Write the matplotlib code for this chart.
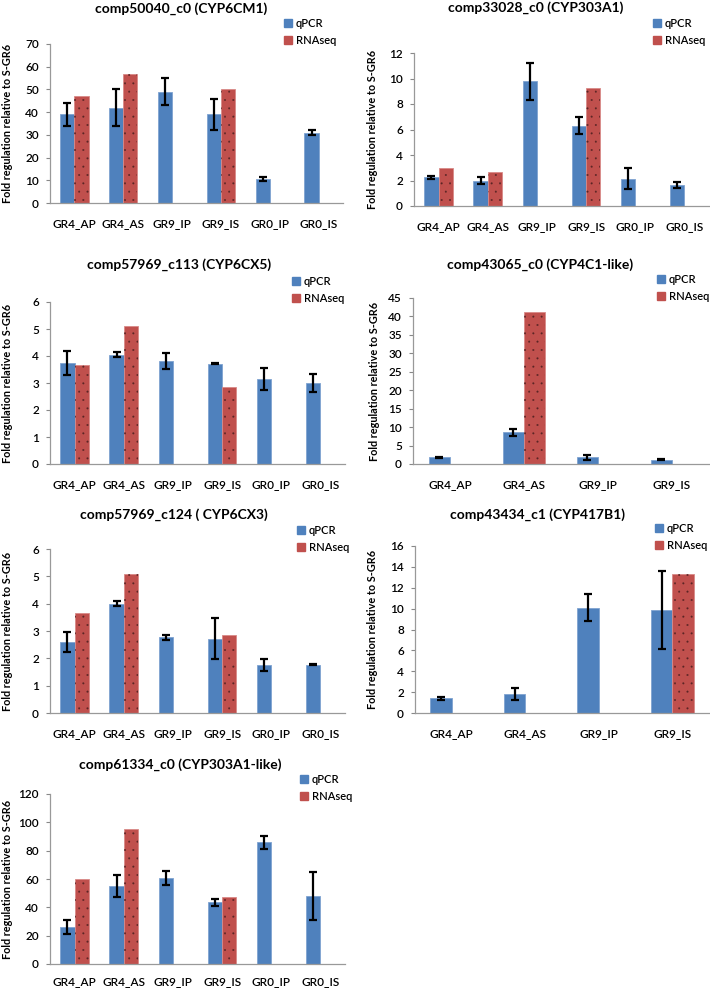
"""
qPCR vs RNAseq fold regulation, seven CYP genes.
"""
import matplotlib
matplotlib.use("Agg")
import matplotlib.pyplot as plt
from matplotlib.patches import Patch

plt.rcParams["font.family"] = ["Lato", "DejaVu Sans"]
plt.rcParams["hatch.linewidth"] = 0.2

cats6 = ["GR4_AP", "GR4_AS", "GR9_IP", "GR9_IS", "GR0_IP", "GR0_IS"]
cats4 = ["GR4_AP", "GR4_AS", "GR9_IP", "GR9_IS"]

titles = ["comp50040_c0 (CYP6CM1)", "comp33028_c0 (CYP303A1)",
          "comp57969_c113 (CYP6CX5)", "comp43065_c0 (CYP4C1-like)",
          "comp57969_c124 ( CYP6CX3)", "comp43434_c1 (CYP417B1)",
          "comp61334_c0 (CYP303A1-like)"]

# None = no RNAseq bar
qpcr_1 = [39, 42, 49, 39, 10.5, 31]
err_1 = [5, 8, 6, 7, 1, 1.2]
rna_1 = [47, 57, None, 50, None, None]

qpcr_2 = [2.25, 2.0, 9.8, 6.3, 2.15, 1.65]
err_2 = [0.1, 0.3, 1.45, 0.65, 0.8, 0.2]
rna_2 = [2.95, 2.7, None, 9.25, None, None]

qpcr_3 = [3.75, 4.05, 3.82, 3.72, 3.15, 3.0]
err_3 = [0.45, 0.1, 0.3, 0.03, 0.42, 0.32]
rna_3 = [3.65, 5.1, None, 2.85, None, None]

qpcr_4 = [1.8, 8.6, 1.8, 1.1]
err_4 = [0.15, 1.0, 0.7, 0.15]
rna_4 = [None, 41.2, None, None]

qpcr_5 = [2.6, 4.0, 2.77, 2.72, 1.75, 1.77]
err_5 = [0.37, 0.1, 0.1, 0.75, 0.22, 0.03]
rna_5 = [3.65, 5.1, None, 2.85, None, None]

qpcr_6 = [1.4, 1.8, 10.1, 9.85]
err_6 = [0.15, 0.55, 1.3, 3.75]
rna_6 = [None, None, None, 13.3]

qpcr_7 = [26, 55, 61, 43.5, 86, 48]
err_7 = [5, 8, 5, 2.5, 4.5, 17]
rna_7 = [60, 95.5, None, 47.5, None, None]

W, H = 710, 992
BLUE = "#4F81BD"
RED = "#C0504D"

# pixel layout: axes box (left, top, right, bottom), title (x, y), legend (x, y), ylabel x
panels = [
    (cats6, qpcr_1, err_1, rna_1, 70, 10, (50, 44, 343, 203), (181, 9), (284, 18), 8),
    (cats6, qpcr_2, err_2, rna_2, 12, 2, (414, 53, 709, 206), (536, 8), (653, 18), 372),
    (cats6, qpcr_3, err_3, rna_3, 6, 1, (50, 302, 345, 464), (179, 265), (292, 276), 8),
    (cats4, qpcr_4, err_4, rna_4, 45, 5, (413, 298, 709, 464), (540, 265), (657, 274), 375),
    (cats6, qpcr_5, err_5, rna_5, 6, 1, (50, 549, 345, 713), (174, 515), (297, 525), 8),
    (cats4, qpcr_6, err_6, rna_6, 16, 2, (415, 546, 709, 713), (537, 515), (655, 523), 373),
    (cats6, qpcr_7, err_7, rna_7, 120, 20, (50, 794, 345, 964), (180, 765), (300, 774), 8),
]

fig = plt.figure(figsize=(W / 100, H / 100), dpi=100)
bw = 0.29

for i, (cats, q, e, r, ymax, step, box, tpos, lpos, ylx) in enumerate(panels):
    l, t, rr, b = box
    ax = fig.add_axes([l / W, 1 - b / H, (rr - l) / W, (b - t) / H])
    xs = list(range(len(cats)))
    ax.bar([x - bw / 2 for x in xs], q, bw, color=BLUE, edgecolor="#7fa3d1", linewidth=0.6)
    ax.errorbar([x - bw / 2 for x in xs], q, yerr=e, fmt="none", ecolor="black",
                elinewidth=1.6, capsize=3, capthick=1.6)
    rx = [x + bw / 2 for x, v in zip(xs, r) if v is not None]
    rv = [v for v in r if v is not None]
    ax.bar(rx, rv, bw, color=RED, edgecolor="#d88a88", linewidth=0.6)
    ax.bar(rx, rv, bw, facecolor="none", edgecolor="#5a2525", linewidth=0, hatch="..")

    ax.set_xlim(-0.5, len(cats) - 0.5)
    ax.set_ylim(0, ymax)
    ax.set_yticks(range(0, ymax + 1, step))
    ax.set_xticks(xs)
    ax.set_xticklabels(cats)
    ax.tick_params(axis="x", length=0, pad=11 if i < 6 else 9, labelsize=8.5)
    ax.tick_params(axis="y", length=3, width=0.8, color="#888888", pad=5, labelsize=8.5)
    for lab in ax.get_xticklabels() + ax.get_yticklabels():
        lab.set_fontweight("semibold")
    for s in ["top", "right"]:
        ax.spines[s].set_visible(False)
    for s in ["left", "bottom"]:
        ax.spines[s].set_color("#999999")
        ax.spines[s].set_linewidth(0.9)

    fig.text(tpos[0] / W, 1 - tpos[1] / H, titles[i], ha="center", va="center",
             fontsize=10, fontweight="bold")
    fig.text(ylx / W, 1 - (t + b) / 2 / H, "Fold regulation relative to S-GR6",
             rotation=90, ha="center", va="center", fontsize=7.8, fontweight="bold")
    handles = [Patch(color=BLUE, label="qPCR"), Patch(color=RED, label="RNAseq")]
    leg = ax.legend(handles=handles, loc="upper left",
                    bbox_to_anchor=(lpos[0] / W, 1 - lpos[1] / H),
                    bbox_transform=fig.transFigure, frameon=False, fontsize=8,
                    handlelength=0.75, handleheight=0.75, handletextpad=0.3,
                    borderpad=0, borderaxespad=0, labelspacing=0.5)
    for txt in leg.get_texts():
        txt.set_fontweight("semibold")

fig.savefig("out.png", dpi=100)
